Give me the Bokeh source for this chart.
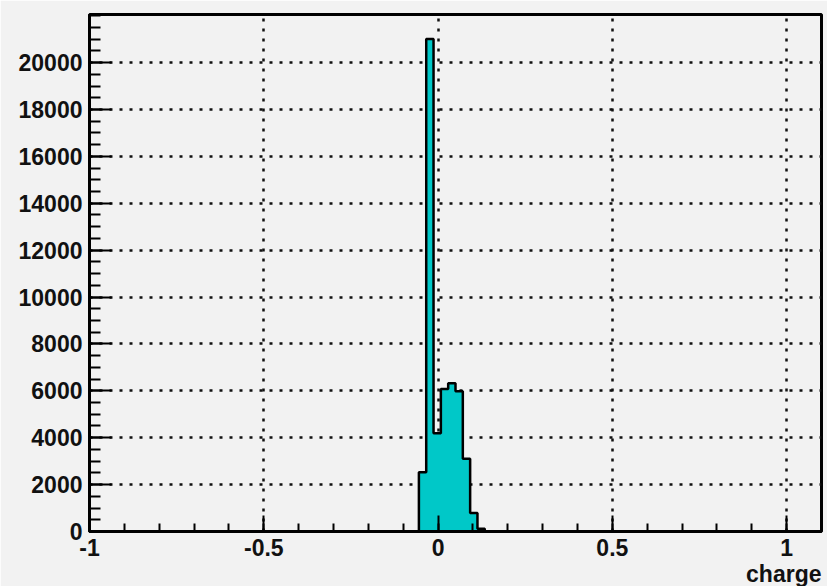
from bokeh.plotting import figure
from bokeh.models import Range1d, FixedTicker, CustomJSTickFormatter, Title
from bokeh.embed import file_html
from bokeh.resources import INLINE

# Histogram of charge: 100 bins over [-1, 1.1], only non-empty bins listed
bin_width = 0.021
bin_left = [-0.055, -0.034, -0.013, 0.008, 0.029, 0.050, 0.071, 0.092, 0.113]
counts = [2530, 21000, 4190, 6080, 6320, 5980, 3100, 790, 120]

x_ticks = [-1, -0.5, 0, 0.5, 1]
x_minor = [round(-1 + 0.1 * i, 1) for i in range(22)]
y_ticks = [0, 2000, 4000, 6000, 8000, 10000, 12000, 14000, 16000, 18000, 20000]
y_minor = [500 * i for i in range(45)]

bg = "#f2f2f2"
fill = "#00c8c8"
font = "Liberation Sans"

p = figure(width=827, height=586, output_backend="svg", toolbar_location=None,
           x_range=Range1d(-1, 1.1), y_range=Range1d(0, 22050),
           min_border_left=89, min_border_right=6, min_border_top=14,
           min_border_bottom=55)
p.background_fill_color = bg
p.border_fill_color = bg
p.outline_line_color = "black"
p.outline_line_width = 3

# filled step shape and its outline, built from the bin edges and counts
bin_right = [l + bin_width for l in bin_left]
sx = [bin_left[0]]
sy = [0]
for l, r, c in zip(bin_left, bin_right, counts):
    sx += [l, r]
    sy += [c, c]
sx.append(bin_right[-1])
sy.append(0)
p.patch(sx, sy, fill_color=fill, line_color=None)
p.line(sx, sy, line_color="black", line_width=2.5)

p.xaxis.ticker = FixedTicker(ticks=x_ticks, minor_ticks=x_minor)
p.yaxis.ticker = FixedTicker(ticks=y_ticks, minor_ticks=y_minor)
fmt = CustomJSTickFormatter(code="return tick.toString();")
p.xaxis.formatter = fmt
p.yaxis.formatter = fmt

for ax in (p.xaxis, p.yaxis):
    ax.axis_line_width = 3
    ax.axis_line_color = "black"
    ax.major_tick_out = 0
    ax.minor_tick_out = 0
    ax.major_tick_line_width = 2
    ax.minor_tick_line_width = 2
    ax.major_label_text_font = font
    ax.major_label_text_font_style = "bold"
    ax.major_label_text_font_size = "23px"
    ax.major_label_text_color = "#111111"
    ax.major_label_standoff = 7

p.xaxis.major_tick_in = 16
p.xaxis.minor_tick_in = 8
p.yaxis.major_tick_in = 22
p.yaxis.minor_tick_in = 11

for g in (p.xgrid, p.ygrid):
    g.grid_line_color = "#111111"
    g.grid_line_width = 2.5
    g.grid_line_dash = "3 7"
p.xgrid.ticker = FixedTicker(ticks=x_ticks)
p.ygrid.ticker = FixedTicker(ticks=y_ticks)

# x axis title, right-aligned under the axis
p.add_layout(Title(text="charge", align="right", text_font=font,
                   text_font_style="bold", text_font_size="23px",
                   text_color="#111111", standoff=0, offset=0), "below")

open("out.html", "w").write(file_html(p, INLINE))
